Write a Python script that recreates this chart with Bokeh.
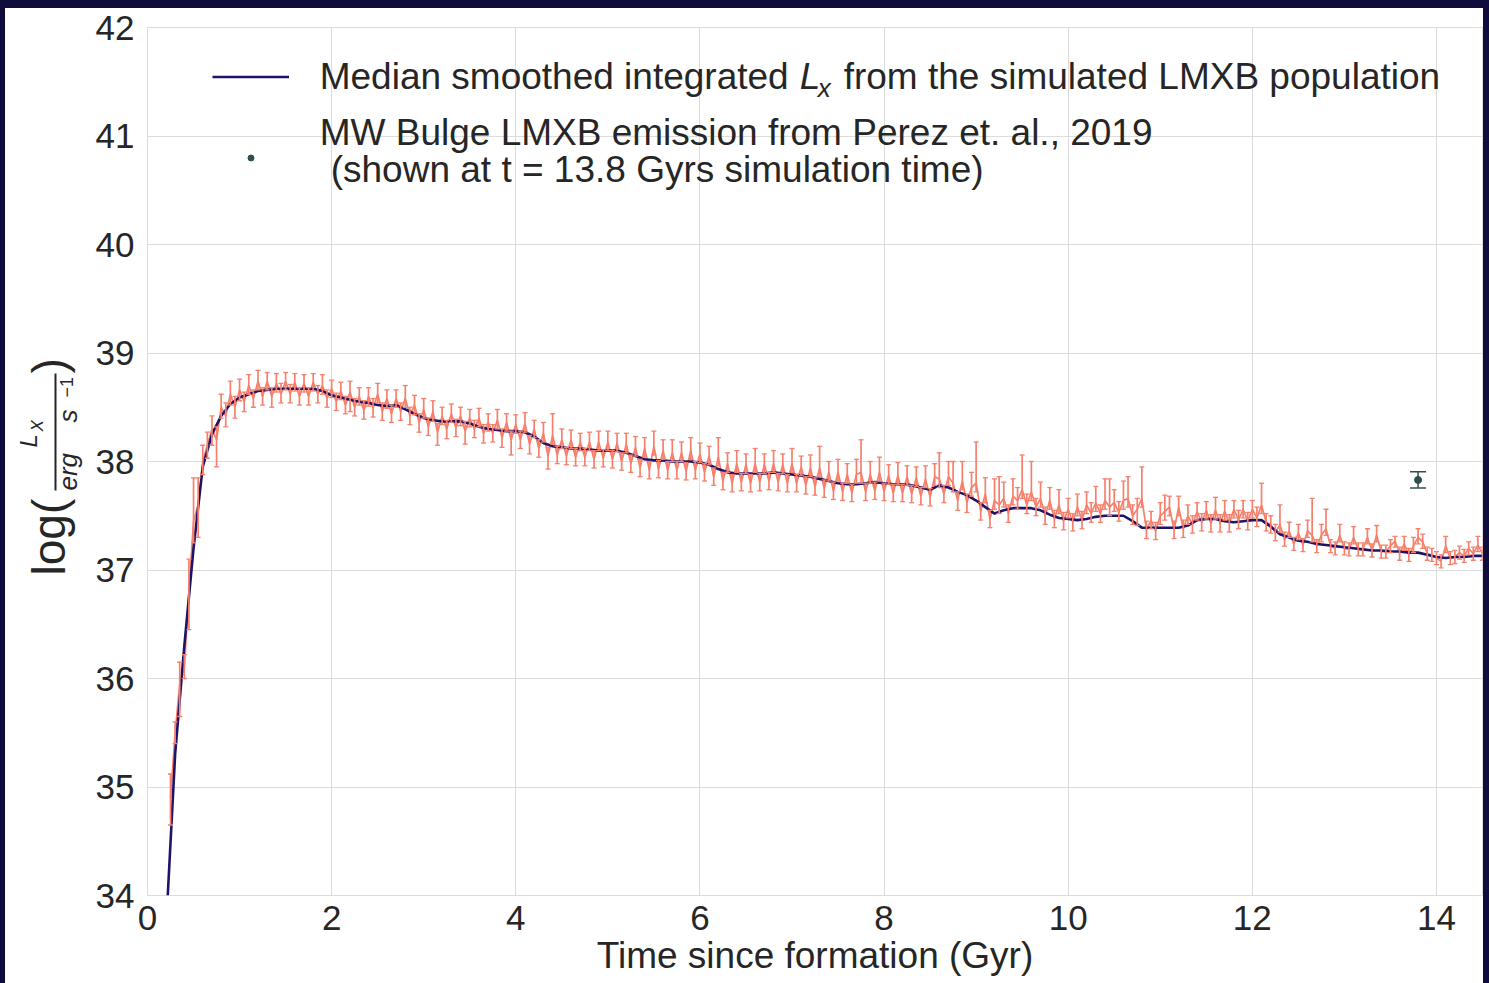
import numpy as np
from bokeh.plotting import figure
from bokeh.models import (ColumnDataSource, Whisker, TeeHead, Label, Legend, LegendItem,
                          Range1d, FixedTicker, Arrow, Spacer)
from bokeh.layouts import column, row
from bokeh.embed import file_html
from bokeh.resources import INLINE

# ---------------- data ----------------
x_ticks = [0, 2, 4, 6, 8, 10, 12, 14]
y_ticks = [34, 35, 36, 37, 38, 39, 40, 41, 42]

median_t = [0.22] + [round(0.3 + 0.1 * i, 2) for i in range(143)]
median_lx = [
    34.0,
    35.3, 36.3, 37.2,
    37.95, 38.25, 38.42, 38.53, 38.59, 38.62, 38.65, 38.66, 38.67, 38.67,
    38.67, 38.67, 38.67, 38.65, 38.61, 38.59, 38.57, 38.55, 38.54, 38.52,
    38.51, 38.52, 38.48, 38.44, 38.40, 38.38, 38.37, 38.37, 38.37, 38.35,
    38.32, 38.30, 38.29, 38.28, 38.28, 38.27, 38.23, 38.17, 38.14, 38.13,
    38.12, 38.12, 38.11, 38.10, 38.10, 38.10, 38.08, 38.05, 38.02, 38.01,
    38.01, 38.00, 38.00, 38.00, 37.99, 37.97, 37.93, 37.90, 37.89, 37.89,
    37.89, 37.89, 37.90, 37.89, 37.88, 37.87, 37.86, 37.84, 37.82, 37.80,
    37.79, 37.79, 37.80, 37.81, 37.80, 37.79, 37.79, 37.78, 37.76, 37.74,
    37.78, 37.76, 37.72, 37.69, 37.64, 37.58, 37.52, 37.55, 37.57, 37.57,
    37.57, 37.55, 37.51, 37.48, 37.47, 37.46, 37.47, 37.49, 37.50, 37.50,
    37.50, 37.45, 37.39, 37.39, 37.39, 37.39, 37.39, 37.41, 37.46, 37.47,
    37.47, 37.45, 37.44, 37.45, 37.46, 37.46, 37.40, 37.33, 37.30, 37.27,
    37.26, 37.24, 37.23, 37.22, 37.21, 37.20, 37.19, 37.18, 37.18, 37.17,
    37.17, 37.16, 37.16, 37.14, 37.12, 37.11, 37.12, 37.12, 37.13, 37.13,
]

sim_t = [round(0.25 + 0.05 * i, 2) for i in range(286)]
sim_lx = [
    34.9, 35.5, 35.95, 36.1, 36.8, 37.45, 37.6, 38.0, 38.15, 38.3,
    38.2, 38.5, 38.42, 38.62, 38.5, 38.66, 38.55, 38.7, 38.58, 38.74,
    38.6, 38.74, 38.6, 38.72, 38.62, 38.74, 38.62, 38.73, 38.6, 38.72,
    38.6, 38.73, 38.62, 38.7, 38.58, 38.67, 38.55, 38.65, 38.52, 38.64,
    38.5, 38.6, 38.47, 38.6, 38.49, 38.62, 38.46, 38.58, 38.44, 38.58,
    38.46, 38.58, 38.42, 38.52, 38.36, 38.48, 38.32, 38.46, 38.27, 38.42,
    38.3, 38.44, 38.31, 38.42, 38.28, 38.4, 38.3, 38.4, 38.26, 38.36,
    38.26, 38.38, 38.22, 38.36, 38.2, 38.34, 38.2, 38.35, 38.16, 38.3,
    38.12, 38.26, 38.05, 38.24, 38.06, 38.2, 38.05, 38.2, 38.04, 38.18,
    38.04, 38.18, 38.02, 38.18, 38.03, 38.18, 38.02, 38.17, 38.0, 38.16,
    37.98, 38.13, 37.94, 38.12, 37.92, 38.14, 37.93, 38.1, 37.92, 38.08,
    37.92, 38.08, 37.91, 38.1, 37.92, 38.07, 37.9, 38.05, 37.86, 38.04,
    37.82, 37.98, 37.8, 37.98, 37.81, 37.97, 37.8, 37.98, 37.81, 37.97,
    37.82, 37.98, 37.81, 37.97, 37.8, 37.98, 37.8, 37.95, 37.78, 37.94,
    37.77, 37.94, 37.75, 37.9, 37.73, 37.9, 37.72, 37.88, 37.71, 37.88,
    37.9, 37.72, 37.88, 37.73, 37.9, 37.72, 37.87, 37.71, 37.87, 37.71,
    37.86, 37.7, 37.85, 37.68, 37.84, 37.67, 37.86, 37.84, 37.7, 37.86,
    37.8, 37.64, 37.82, 37.62, 37.76, 37.8, 37.54, 37.7, 37.47, 37.64,
    37.6, 37.66, 37.52, 37.68, 37.64, 37.74, 37.6, 37.72, 37.58, 37.66,
    37.5, 37.64, 37.47, 37.6, 37.45, 37.56, 37.44, 37.58, 37.46, 37.6,
    37.52, 37.62, 37.52, 37.64, 37.58, 37.62, 37.53, 37.64, 37.66, 37.5,
    37.56, 37.66, 37.37, 37.46, 37.36, 37.5, 37.54, 37.58, 37.37, 37.58,
    37.38, 37.5, 37.42, 37.54, 37.44, 37.55, 37.43, 37.55, 37.43, 37.54,
    37.43, 37.56, 37.46, 37.56, 37.45, 37.56, 37.48, 37.6, 37.44, 37.42,
    37.34, 37.42, 37.28, 37.36, 37.24, 37.34, 37.23, 37.36, 37.32, 37.22,
    37.32, 37.38, 37.22, 37.2, 37.32, 37.2, 37.19, 37.3, 37.19, 37.19,
    37.3, 37.18, 37.32, 37.17, 37.17, 37.22, 37.27, 37.15, 37.24, 37.14,
    37.22, 37.3, 37.26, 37.15, 37.14, 37.11, 37.08, 37.22, 37.11, 37.12,
    37.16, 37.13, 37.2, 37.15, 37.23, 37.15,
]
sim_err_up = [
    0.22, 0.1, 0.2, 0.12, 0.3, 0.4, 0.25, 0.15, 0.12, 0.12,
    0.12, 0.12, 0.12, 0.12, 0.1, 0.1, 0.09, 0.1, 0.08, 0.1,
    0.08, 0.08, 0.08, 0.09, 0.1, 0.08, 0.09, 0.08, 0.08, 0.08,
    0.08, 0.08, 0.08, 0.1, 0.08, 0.08, 0.08, 0.08, 0.08, 0.1,
    0.08, 0.08, 0.09, 0.08, 0.09, 0.1, 0.08, 0.08, 0.08, 0.08,
    0.08, 0.12, 0.08, 0.09, 0.08, 0.1, 0.08, 0.1, 0.08, 0.08,
    0.08, 0.09, 0.08, 0.08, 0.09, 0.08, 0.08, 0.09, 0.08, 0.08,
    0.08, 0.1, 0.08, 0.08, 0.08, 0.09, 0.08, 0.1, 0.08, 0.08,
    0.08, 0.1, 0.08, 0.2, 0.08, 0.1, 0.08, 0.09, 0.08, 0.08,
    0.08, 0.09, 0.08, 0.1, 0.08, 0.1, 0.08, 0.09, 0.08, 0.1,
    0.08, 0.1, 0.08, 0.1, 0.08, 0.14, 0.08, 0.1, 0.08, 0.12,
    0.08, 0.1, 0.08, 0.12, 0.08, 0.1, 0.08, 0.09, 0.08, 0.18,
    0.08, 0.1, 0.08, 0.12, 0.08, 0.1, 0.08, 0.14, 0.08, 0.1,
    0.08, 0.12, 0.08, 0.1, 0.08, 0.14, 0.08, 0.1, 0.08, 0.12,
    0.08, 0.2, 0.08, 0.1, 0.08, 0.12, 0.08, 0.1, 0.08, 0.14,
    0.3, 0.08, 0.12, 0.08, 0.14, 0.08, 0.1, 0.08, 0.12, 0.08,
    0.1, 0.08, 0.1, 0.08, 0.12, 0.08, 0.12, 0.24, 0.08, 0.14,
    0.2, 0.08, 0.18, 0.08, 0.14, 0.38, 0.08, 0.15, 0.08, 0.2,
    0.26, 0.15, 0.08, 0.16, 0.12, 0.32, 0.1, 0.28, 0.08, 0.15,
    0.08, 0.12, 0.08, 0.14, 0.08, 0.1, 0.08, 0.12, 0.08, 0.12,
    0.1, 0.15, 0.08, 0.2, 0.26, 0.12, 0.1, 0.18, 0.2, 0.1,
    0.1, 0.29, 0.08, 0.08, 0.08, 0.12, 0.15, 0.1, 0.08, 0.1,
    0.08, 0.1, 0.08, 0.08, 0.08, 0.08, 0.08, 0.12, 0.08, 0.1,
    0.08, 0.08, 0.09, 0.08, 0.08, 0.08, 0.1, 0.2, 0.08, 0.08,
    0.08, 0.18, 0.07, 0.08, 0.06, 0.08, 0.06, 0.1, 0.34, 0.06,
    0.1, 0.18, 0.06, 0.06, 0.1, 0.06, 0.06, 0.1, 0.06, 0.06,
    0.08, 0.06, 0.09, 0.06, 0.06, 0.06, 0.04, 0.06, 0.07, 0.06,
    0.08, 0.08, 0.07, 0.06, 0.06, 0.06, 0.06, 0.09, 0.06, 0.06,
    0.06, 0.06, 0.06, 0.06, 0.08, 0.06,
]
sim_err_dn = [
    0.25, 0.1, 0.3, 0.1, 0.35, 0.2, 0.3, 0.12, 0.12, 0.15,
    0.25, 0.1, 0.1, 0.1, 0.1, 0.1, 0.09, 0.08, 0.08, 0.08,
    0.08, 0.08, 0.1, 0.08, 0.08, 0.08, 0.08, 0.08, 0.08, 0.08,
    0.08, 0.08, 0.08, 0.08, 0.08, 0.08, 0.08, 0.08, 0.08, 0.18,
    0.08, 0.08, 0.08, 0.09, 0.08, 0.08, 0.08, 0.09, 0.08, 0.08,
    0.08, 0.08, 0.08, 0.09, 0.09, 0.08, 0.08, 0.09, 0.12, 0.08,
    0.09, 0.08, 0.08, 0.09, 0.12, 0.08, 0.08, 0.08, 0.09, 0.08,
    0.08, 0.08, 0.09, 0.08, 0.14, 0.08, 0.08, 0.08, 0.09, 0.08,
    0.08, 0.08, 0.12, 0.08, 0.08, 0.08, 0.08, 0.08, 0.08, 0.08,
    0.08, 0.08, 0.08, 0.08, 0.08, 0.08, 0.08, 0.08, 0.08, 0.08,
    0.08, 0.08, 0.08, 0.08, 0.08, 0.08, 0.08, 0.08, 0.08, 0.08,
    0.08, 0.08, 0.08, 0.08, 0.08, 0.08, 0.08, 0.08, 0.08, 0.08,
    0.08, 0.08, 0.08, 0.08, 0.08, 0.08, 0.08, 0.08, 0.08, 0.08,
    0.08, 0.08, 0.08, 0.08, 0.08, 0.08, 0.08, 0.08, 0.08, 0.08,
    0.08, 0.08, 0.08, 0.08, 0.08, 0.08, 0.08, 0.08, 0.08, 0.08,
    0.1, 0.08, 0.08, 0.08, 0.08, 0.08, 0.08, 0.08, 0.08, 0.08,
    0.08, 0.08, 0.08, 0.08, 0.08, 0.08, 0.08, 0.08, 0.08, 0.08,
    0.08, 0.09, 0.08, 0.09, 0.08, 0.08, 0.08, 0.08, 0.08, 0.08,
    0.08, 0.08, 0.08, 0.08, 0.08, 0.08, 0.08, 0.08, 0.08, 0.08,
    0.08, 0.08, 0.08, 0.08, 0.08, 0.08, 0.08, 0.08, 0.08, 0.08,
    0.08, 0.08, 0.08, 0.08, 0.08, 0.08, 0.08, 0.08, 0.08, 0.08,
    0.15, 0.08, 0.08, 0.08, 0.08, 0.08, 0.08, 0.08, 0.08, 0.08,
    0.08, 0.08, 0.08, 0.08, 0.08, 0.08, 0.08, 0.08, 0.08, 0.08,
    0.08, 0.08, 0.08, 0.08, 0.08, 0.08, 0.08, 0.08, 0.08, 0.08,
    0.07, 0.07, 0.06, 0.06, 0.06, 0.06, 0.06, 0.06, 0.06, 0.06,
    0.06, 0.06, 0.06, 0.06, 0.06, 0.06, 0.06, 0.06, 0.06, 0.06,
    0.06, 0.06, 0.06, 0.06, 0.06, 0.06, 0.06, 0.06, 0.06, 0.06,
    0.06, 0.06, 0.06, 0.06, 0.06, 0.06, 0.06, 0.06, 0.06, 0.06,
    0.06, 0.06, 0.06, 0.06, 0.06, 0.06,
]

obs_t = [13.8]
obs_lx = [37.83]
obs_err = [0.075]

# ---------------- styling ----------------
FONT = "Liberation Sans"
TXT = "#262626"
ORANGE = "#f7806c"
NAVY = "#1d1468"
OBS = "#2f4f4f"
GRID = "#dcdcdc"
FRAME_BG = "#100d3d"

p = figure(width=1393, height=975, output_backend="svg", toolbar_location=None,
           x_range=Range1d(0, 14.5), y_range=Range1d(34, 42),
           min_border_left=57, min_border_right=1, min_border_top=19, min_border_bottom=88)
p.background_fill_color = "white"
p.border_fill_color = "white"
p.outline_line_color = GRID
p.outline_line_width = 1

for ax in (p.xaxis[0], p.yaxis[0]):
    ax.axis_line_color = None
    ax.major_tick_line_color = None
    ax.minor_tick_line_color = None
    ax.major_label_text_font = FONT
    ax.major_label_text_font_size = "35px"
    ax.major_label_text_color = TXT
p.xaxis.ticker = FixedTicker(ticks=x_ticks)
p.yaxis.ticker = FixedTicker(ticks=y_ticks)
p.xaxis.major_label_standoff = 4
p.yaxis.major_label_standoff = 7
p.xaxis.axis_label = "Time since formation (Gyr)"
p.xaxis.axis_label_text_font = FONT
p.xaxis.axis_label_text_font_size = "37px"
p.xaxis.axis_label_text_font_style = "normal"
p.xaxis.axis_label_text_color = TXT
p.xaxis.axis_label_standoff = 2

p.xgrid.grid_line_color = GRID
p.ygrid.grid_line_color = GRID

# ---------------- marks ----------------
sim_lo = [y - d for y, d in zip(sim_lx, sim_err_dn)]
sim_hi = [y + u for y, u in zip(sim_lx, sim_err_up)]
sim_src = ColumnDataSource(dict(t=sim_t, y=sim_lx, lo=sim_lo, hi=sim_hi))

p.add_layout(Whisker(source=sim_src, base="t", lower="lo", upper="hi", level="glyph",
                     line_color=ORANGE, line_width=1.7,
                     upper_head=TeeHead(size=5, line_color=ORANGE, line_width=1.3),
                     lower_head=TeeHead(size=5, line_color=ORANGE, line_width=1.3)))
p.line("t", "y", source=sim_src, line_color=ORANGE, line_width=1.7)

med_r = p.line(median_t, median_lx, line_color=NAVY, line_width=2.6)

obs_src = ColumnDataSource(dict(t=obs_t, y=obs_lx,
                                lo=[y - e for y, e in zip(obs_lx, obs_err)],
                                hi=[y + e for y, e in zip(obs_lx, obs_err)]))
p.add_layout(Whisker(source=obs_src, base="t", lower="lo", upper="hi", level="overlay",
                     line_color=OBS, line_width=1.5,
                     upper_head=TeeHead(size=16, line_color=OBS, line_width=1.5),
                     lower_head=TeeHead(size=16, line_color=OBS, line_width=1.5)))
obs_r = p.scatter("t", "y", source=obs_src, size=7, color=OBS, marker="circle")

# ---------------- legend (glyph samples) ----------------
legend = Legend(items=[LegendItem(label=" ", renderers=[med_r]),
                       LegendItem(label=" ", renderers=[obs_r])],
                location=(65, 717), glyph_width=77, glyph_height=15, label_height=41,
                spacing=40, padding=0, margin=0, label_standoff=0, label_width=0,
                border_line_color=None, background_fill_alpha=0)
p.add_layout(legend)

# pixel -> data helpers for text placement (page pixels)
def dx(px):
    return (px - 146.8) / 92.07

def dy(py):
    return 42 - (py - 27) / 108.5

SHIFT = 0.35  # renderer places glyphs ~0.35 em below the requested baseline

legend_texts = [
    ("Median smoothed integrated ", 319, 89, 37, "normal"),
    ("L", 799, 89, 37, "italic"),
    ("x", 817, 97, 26, "italic"),
    ("from the simulated LMXB population", 843, 89, 37, "normal"),
    ("MW Bulge LMXB emission from Perez et. al., 2019", 319, 145, 37, "normal"),
    ("(shown at t = 13.8 Gyrs simulation time)", 330, 182, 37, "normal"),
]
for txt, px, py, fs, st in legend_texts:
    p.add_layout(Label(x=dx(px), y=dy(py - SHIFT * fs), text=txt, text_font=FONT,
                       text_font_size=f"{fs}px", text_font_style=st, text_color=TXT,
                       text_align="left", text_baseline="alphabetic"))

# ---------------- y axis label (separate panel, page-pixel coordinates) ----------------
pl = figure(width=85, height=975, output_backend="svg", toolbar_location=None,
            x_range=Range1d(5, 90), y_range=Range1d(895, 27),
            x_axis_type=None, y_axis_type=None,
            min_border_left=0, min_border_right=0, min_border_top=19, min_border_bottom=88)
pl.grid.visible = False
pl.outline_line_color = None
pl.background_fill_color = "white"
pl.border_fill_color = "white"

ylabel_parts = [
    ("log(", 65, 575, 46, "normal"),
    (")", 65, 373, 46, "normal"),
    ("L", 36, 447, 24, "italic"),
    ("X", 43, 431, 17, "italic"),
    ("erg", 77, 490, 26, "italic"),
    ("s", 77, 422, 26, "italic"),
    ("\u22121", 72, 397, 18, "normal"),
]
for txt, px, py, fs, st in ylabel_parts:
    pl.add_layout(Label(x=px - SHIFT * fs, y=py, text=txt, text_font=FONT,
                        text_font_size=f"{fs}px", text_font_style=st, text_color=TXT,
                        angle=90, angle_units="deg",
                        text_align="left", text_baseline="alphabetic"))
pl.add_layout(Arrow(x_start=55, y_start=490, x_end=55, y_end=373,
                    start=None, end=None, line_color=TXT, line_width=2))

inner = row(pl, p, styles={"background-color": "white"})
page = column(Spacer(height=8),
              row(Spacer(width=5), inner, Spacer(width=6)),
              styles={"background-color": FRAME_BG})

open("out.html", "w").write(file_html(page, INLINE))
